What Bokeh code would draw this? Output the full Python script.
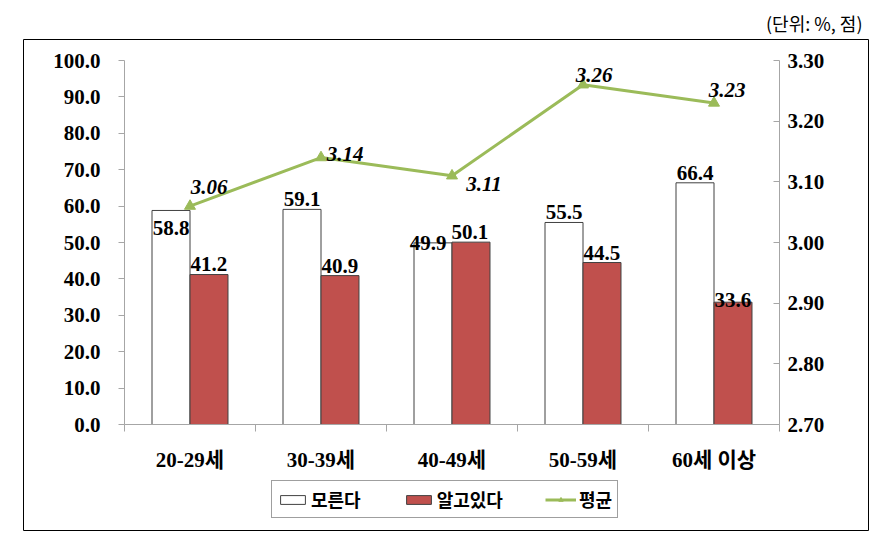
from bokeh.plotting import figure
from bokeh.models import (ColumnDataSource, Range1d, LinearAxis, FixedTicker,
                          NumeralTickFormatter, Legend, LegendItem)
from bokeh.core.properties import value
from bokeh.embed import file_html
from bokeh.resources import INLINE

# ---------------- data ----------------
categories = ["20-29세", "30-39세", "40-49세", "50-59세", "60세 이상"]
dont_know = [58.8, 59.1, 49.9, 55.5, 66.4]      # 모른다
know = [41.2, 40.9, 50.1, 44.5, 33.6]           # 알고있다
average = [3.06, 3.14, 3.11, 3.26, 3.23]        # 평균
left_ticks = [0, 10, 20, 30, 40, 50, 60, 70, 80, 90, 100]
right_ticks = [2.70, 2.80, 2.90, 3.00, 3.10, 3.20, 3.30]
series_names = ["모른다", "알고있다", "평균"]
unit_label = "(단위: %, 점)"

# ---------------- label placement (pixels, style only) ----------------
dk_dx = [0, 0, -5, 0, 0]
dk_dy = [18, -10, 0, -10, -10]
kn_dx = [0, 0, -1, 0, 0]
kn_dy = [-11, -10, -10, -10, -2]
avg_dx = [19, 24, 32, 11, 13]
avg_dy = [-19, -4, 8, -10, -13]

SERIF = "'Liberation Serif', 'Noto Sans CJK KR'"
KFONT = "'Noto Sans CJK KR'"
RED = "#C0504D"
GREEN = "#9BBB59"
AXIS_GRAY = "#A6A6A6"

n = len(categories)
centers = [i + 0.5 for i in range(n)]
off = 0.145
bw = 0.29

# pixel geometry of the boxed chart area (frame) and of the plotting region in it
FRAME_W, FRAME_H = 845, 491
PL, PR, PT, PB = 101, 89, 21, 106            # plot region inset from frame edges
pw = FRAME_W - PL - PR                        # px for n categories
ph = FRAME_H - PT - PB                        # px for value axis
ymin_l, ymax_l = left_ticks[0], left_ticks[-1]
ymin_r, ymax_r = right_ticks[0], right_ticks[-1]
ux = n / pw
uyl = (ymax_l - ymin_l) / ph
uyr = (ymax_r - ymin_r) / ph

src = ColumnDataSource(dict(
    xc=centers,
    x_dk=[c - off for c in centers],
    x_kn=[c + off for c in centers],
    dk=dont_know, kn=know, avg=average,
    dk_txt=[f"{v:.1f}" for v in dont_know],
    kn_txt=[f"{v:.1f}" for v in know],
    avg_txt=[f"{v:.2f}" for v in average],
    dk_dx=dk_dx, dk_dy=dk_dy, kn_dx=kn_dx, kn_dy=kn_dy,
    avg_dx=avg_dx, avg_dy=avg_dy,
))

p = figure(width=886, height=538, output_backend="svg", toolbar_location=None,
           x_range=Range1d(-PL * ux, n + PR * ux),
           y_range=Range1d(ymin_l - PB * uyl, ymax_l + PT * uyl),
           min_border_left=23, min_border_right=18,
           min_border_top=39, min_border_bottom=8,
           x_axis_type=None, y_axis_type=None)
p.outline_line_color = "black"
p.outline_line_width = 1
p.grid.visible = False
p.background_fill_color = "white"
p.border_fill_color = "white"

p.title.text = unit_label
p.title.align = "right"
p.title.text_font = KFONT
p.title.text_font_size = "18px"
p.title.text_font_style = "normal"
p.title.text_color = "black"
p.title.offset = 6
p.title.standoff = 8

p.extra_y_ranges = {"avg": Range1d(ymin_r - PB * uyr, ymax_r + PT * uyr)}

# left axis
ly = LinearAxis(ticker=FixedTicker(ticks=left_ticks),
                formatter=NumeralTickFormatter(format="0.0"),
                fixed_location=0, bounds=(ymin_l, ymax_l))
ly.axis_line_color = AXIS_GRAY
ly.major_tick_line_color = AXIS_GRAY
ly.major_tick_out = 6
ly.major_tick_in = 0
ly.minor_tick_line_color = None
ly.major_label_standoff = 18
ly.major_label_text_font = SERIF
ly.major_label_text_font_style = "bold"
ly.major_label_text_font_size = "21px"
ly.major_label_text_color = "black"
p.add_layout(ly, "left")

# right axis
ry = LinearAxis(y_range_name="avg", ticker=FixedTicker(ticks=right_ticks),
                formatter=NumeralTickFormatter(format="0.00"),
                fixed_location=n, bounds=(ymin_r, ymax_r))
ry.axis_line_color = AXIS_GRAY
ry.major_tick_line_color = AXIS_GRAY
ry.major_tick_out = 0
ry.major_tick_in = 6
ry.minor_tick_line_color = None
ry.major_label_standoff = 8
ry.major_label_text_font = SERIF
ry.major_label_text_font_style = "bold"
ry.major_label_text_font_size = "21px"
ry.major_label_text_color = "black"
p.add_layout(ry, "right")

# bottom axis: labels at centers, ticks at boundaries (minor ticks)
bx = LinearAxis(ticker=FixedTicker(ticks=centers, minor_ticks=list(range(n + 1))),
                fixed_location=0, bounds=(0, n))
bx.major_label_overrides = {c: lab for c, lab in zip(centers, categories)}
bx.axis_line_color = AXIS_GRAY
bx.major_tick_line_color = None
bx.major_tick_out = 0
bx.major_tick_in = 0
bx.minor_tick_line_color = AXIS_GRAY
bx.minor_tick_out = 7
bx.minor_tick_in = 0
bx.major_label_standoff = 16
bx.major_label_text_font = SERIF
bx.major_label_text_font_style = "bold"
bx.major_label_text_font_size = "21px"
bx.major_label_text_color = "black"
p.add_layout(bx, "below")

# bars
r_dk = p.vbar(x="x_dk", top="dk", bottom=0, width=bw, source=src,
              fill_color="white", line_color="#404040", line_width=1)
r_kn = p.vbar(x="x_kn", top="kn", bottom=0, width=bw, source=src,
              fill_color=RED, line_color="#404040", line_width=1)

# average line
r_line = p.line(x="xc", y="avg", y_range_name="avg", source=src,
                line_color=GREEN, line_width=3)
r_mark = p.scatter(x="xc", y="avg", y_range_name="avg", source=src,
                   marker="triangle", size=11, fill_color=GREEN, line_color=GREEN)

# bar labels
for col, yc, txt, dx, dy in (("x_dk", "dk", "dk_txt", "dk_dx", "dk_dy"),
                             ("x_kn", "kn", "kn_txt", "kn_dx", "kn_dy")):
    p.text(x=col, y=yc, text=txt, source=src, x_offset=dx, y_offset=dy,
           text_align="center", text_baseline="alphabetic",
           text_font=value("Liberation Serif"), text_font_style="bold",
           text_font_size="21px", text_color="black")

# average labels
p.text(x="xc", y="avg", text="avg_txt", source=src, y_range_name="avg",
       x_offset="avg_dx", y_offset="avg_dy",
       text_align="center", text_baseline="alphabetic",
       text_font=value("Liberation Serif"), text_font_style="bold italic",
       text_font_size="21px", text_color="black")

legend = Legend(items=[
    LegendItem(label=series_names[0], renderers=[r_dk]),
    LegendItem(label=series_names[1], renderers=[r_kn]),
    LegendItem(label=series_names[2], renderers=[r_line, r_mark]),
], orientation="horizontal", location=(248, 12))
legend.border_line_color = "#404040"
legend.border_line_width = 1
legend.background_fill_color = "white"
legend.background_fill_alpha = 1
legend.padding = 5
legend.spacing = 42
legend.label_standoff = 3
legend.glyph_width = 31
legend.glyph_height = 11
legend.label_height = 18
legend.label_text_font = KFONT
legend.label_text_font_style = "bold"
legend.label_text_font_size = "18px"
legend.label_text_color = "black"
legend.margin = 0
p.add_layout(legend, "center")

open("out.html", "w").write(file_html(p, INLINE))
